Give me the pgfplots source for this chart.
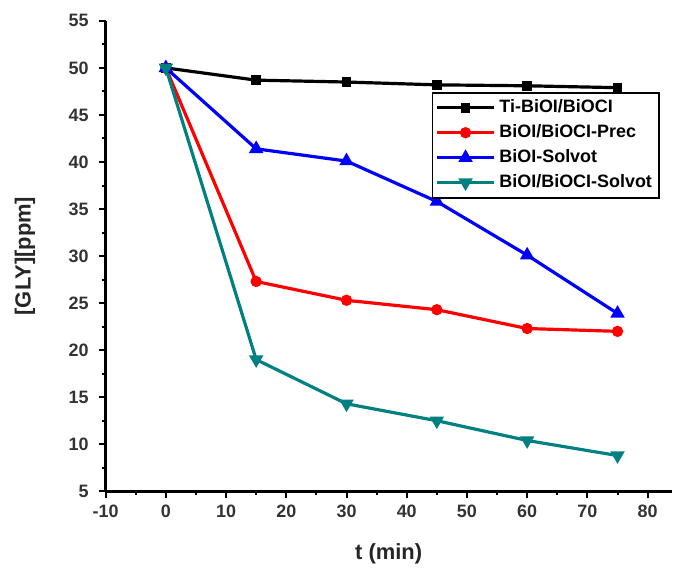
\documentclass[border=0pt]{standalone}
\usepackage{pgfplots}
\pgfplotsset{compat=1.18}
\usepackage{fontspec}
\setmainfont{Liberation Sans}
\definecolor{tealc}{RGB}{0,128,128}

\begin{document}
\begin{tikzpicture}
\begin{axis}[
    scale only axis,
    width=284pt, height=236pt,
    xmin=-10, xmax=84,
    ymin=5, ymax=55,
    axis lines*=left,
    axis line style={line width=1.3pt},
    xtick={-10,0,...,80},
    ytick={5,10,...,55},
    minor x tick num=1,
    minor y tick num=1,
    tick align=outside,
    major tick length=3.5pt,
    minor tick length=2pt,
    tick style={line width=1pt, black},
    /pgf/number format/assume math mode=true,
    ticklabel style={font=\fontsize{9}{10}\selectfont\bfseries, text=black!80},
    yticklabel style={xshift=-1.5pt},
    xlabel={\textbf{t (min)}},
    ylabel={\textbf{[GLY][ppm]}},
    label style={font=\fontsize{11}{13}\selectfont, text=black!85},
    xlabel style={yshift=-6pt},
    ylabel style={yshift=10pt},
    legend cell align=left,
    legend image code/.code={
        \draw[mark repeat=2, mark phase=2, #1]
            plot coordinates {(0cm,0cm) (0.5cm,0cm) (1cm,0cm)};},
    legend style={at={(0.576,0.849)}, anchor=north west,
        font=\fontsize{9}{10}\selectfont\bfseries, draw=black, line width=0.9pt,
        inner sep=1.5pt, row sep=0.5pt},
    every axis plot/.append style={line width=1.6pt},
]
\addplot[black, mark=square*, mark size=1.6pt] coordinates {
    (0,50) (15,48.7) (30,48.5) (45,48.2) (60,48.1) (75,47.9)};
\addlegendentry{Ti-BiOI/BiOCI}
\addplot[red, mark=*, mark size=2pt] coordinates {
    (0,50) (15,27.3) (30,25.3) (45,24.3) (60,22.3) (75,22.0)};
\addlegendentry{BiOI/BiOCI-Prec}
\addplot[blue, mark=triangle*, mark size=2.6pt] coordinates {
    (0,50) (15,41.4) (30,40.1) (45,35.8) (60,30.1) (75,23.9)};
\addlegendentry{BiOI-Solvot}
\addplot[tealc, mark=triangle*, mark size=2.6pt, mark options={rotate=180}] coordinates {
    (0,50) (15,19.0) (30,14.3) (45,12.5) (60,10.4) (75,8.8)};
\addlegendentry{BiOI/BiOCI-Solvot}
\end{axis}
\path (current bounding box.west) ++(-4pt,0) coordinate (padl);
\path (padl) -- (current bounding box.east);
\path (current bounding box.north) ++(0,4pt) coordinate (padt);
\path (padt) -- (current bounding box.south);
\path (current bounding box.south) ++(0,-2pt) coordinate (padb);
\path (padb) -- (current bounding box.north);
\end{tikzpicture}
\end{document}
